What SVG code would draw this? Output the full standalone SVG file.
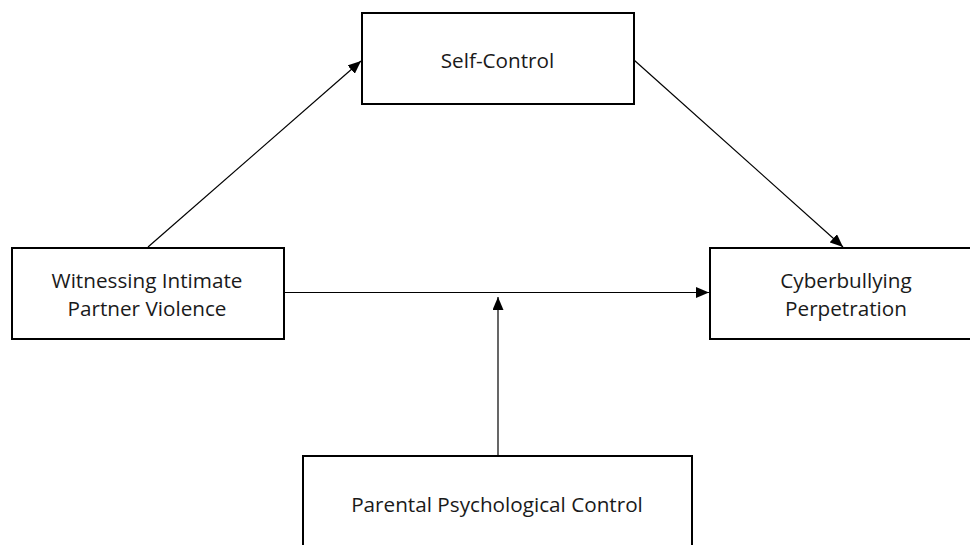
<svg xmlns="http://www.w3.org/2000/svg" width="970" height="545" viewBox="0 0 970 545">
<defs>
<marker id="ah" viewBox="0 0 13 11" refX="13" refY="5.5" markerWidth="13" markerHeight="11" markerUnits="userSpaceOnUse" orient="auto">
<path d="M0,0 L13,5.5 L0,11 Z" fill="#000"/>
</marker>
<style>
.box{fill:#fff;stroke:#000;stroke-width:2}
.lbl{font-family:"Open Sans","Noto Sans",sans-serif;font-size:20.7px;fill:#1a1a1a;text-anchor:middle}
.edge{stroke:#000;stroke-width:1.2;fill:none;marker-end:url(#ah)}
</style>
</defs>
<rect width="970" height="545" fill="#fff"/>
<g id="connectors">
<line class="edge" x1="148" y1="247" x2="361" y2="61"/>
<line class="edge" x1="634" y1="60" x2="843" y2="247"/>
<line class="edge" x1="284" y1="292.5" x2="709" y2="292.5"/>
<line class="edge" x1="498" y1="456" x2="498" y2="297"/>
</g>
<g id="self-control">
<rect class="box" x="362" y="13" width="272" height="91"/>
<text class="lbl" x="497.5" y="68">Self-Control</text>
</g>
<g id="witnessing">
<rect class="box" x="12" y="248" width="272" height="91"/>
<text class="lbl" x="147" y="288">Witnessing Intimate</text>
<text class="lbl" x="147" y="316">Partner Violence</text>
</g>
<g id="cyberbullying">
<rect class="box" x="710" y="248" width="272" height="91"/>
<text class="lbl" x="846" y="288">Cyberbullying</text>
<text class="lbl" x="846" y="316">Perpetration</text>
</g>
<g id="parental">
<rect class="box" x="303" y="456" width="389" height="100"/>
<text class="lbl" x="497" y="511.5">Parental Psychological Control</text>
</g>
</svg>
